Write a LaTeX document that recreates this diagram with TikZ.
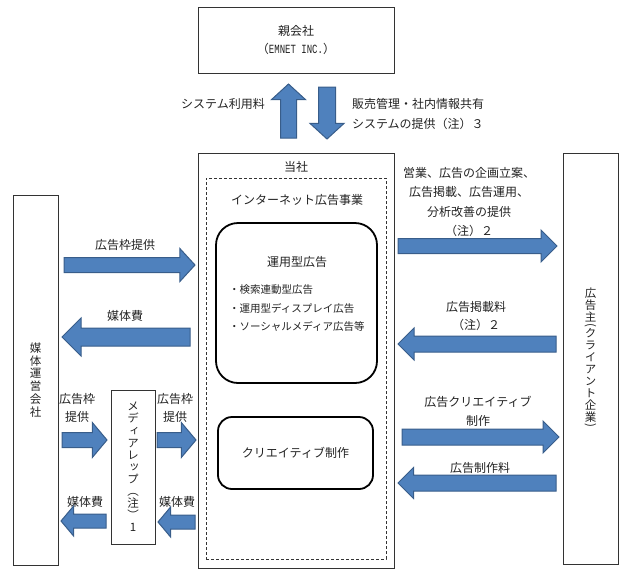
\documentclass[tikz,border=0pt]{standalone}
\usepackage{graphicx}
\usepackage{fontspec}
\setmainfont{Noto Sans CJK JP}
\newfontfamily\jpv[RawFeature=+vert]{Noto Sans CJK JP}
\newfontfamily\monof{Liberation Mono}
\usetikzlibrary{shapes.arrows}
\definecolor{arrowblue}{HTML}{4F81BD}
\definecolor{arrowedge}{HTML}{385D8A}
\definecolor{linegray}{HTML}{333333}
\definecolor{txt}{HTML}{222222}
\begin{document}
\begin{tikzpicture}[x=1pt,y=-1pt,
  box/.style={draw=linegray, line width=0.8pt, inner sep=0pt, outer sep=0pt, text=txt},
  rbox/.style={draw=black, line width=1.8pt, inner sep=0pt, outer sep=0pt, text=txt},
  lbl/.style={inner sep=0pt, outer sep=0pt, text=txt, align=center, font=\fontsize{12}{18}\selectfont},
  vlbl/.style={align=center, font=\jpv\fontsize{11.5}{12.8}\selectfont},
  barrow/.style={single arrow, draw=arrowedge, fill=arrowblue, line width=1pt,
    inner xsep=0pt, outer sep=0pt, single arrow tip angle=95,
    text height=0pt, text depth=0pt,
    single arrow head indent=0pt, anchor=tail}
]
\useasboundingbox (0,0) rectangle (626,574);

% boxes
\node[box, minimum width=196pt, minimum height=66pt, align=center,
  font=\fontsize{12}{18}\selectfont] (parent) at (296,40)
  {親会社\\（\scalebox{0.72}[1]{\monof\fontsize{12.5}{12.5}\selectfont EMNET INC.}）};
\node[box, minimum width=196pt, minimum height=415pt] (main) at (296,360.5) {};
\node[box, dash pattern=on 3pt off 2pt, minimum width=180pt, minimum height=381pt] (biz) at (296,368.5) {};
\node[rbox, rounded corners=22pt, minimum width=161pt, minimum height=160pt] (ops) at (296.5,303) {};
\node[rbox, rounded corners=14pt, minimum width=155pt, minimum height=72pt,
  font=\fontsize{12}{14}\selectfont] (creative) at (295.5,453) {クリエイティブ制作};

\node[box, minimum width=45pt, minimum height=370pt, vlbl] (media) at (35.5,380)
  {媒\\体\\運\\営\\会\\社};
\node[box, minimum width=44pt, minimum height=154pt, vlbl,
  font=\jpv\fontsize{11.5}{12.1}\selectfont] (rep) at (133,467)
  {メ\\デ\\ィ\\ア\\レ\\ッ\\プ\\（\\注\\）\\1};
\node[box, minimum width=55pt, minimum height=411pt, vlbl,
  font=\jpv\fontsize{11.5}{12}\selectfont] (client) at (590.5,358.5)
  {広\\告\\主\\[-4pt]\rotatebox[origin=c]{-90}{\normalfont(}\\[-4pt]ク\\ラ\\イ\\ア\\ン\\ト\\企\\業\\[-4pt]\rotatebox[origin=c]{-90}{\normalfont)}};

% labels inside the company box
\node[lbl] (l_self) at (296,167) {当社};
\node[lbl] (l_biz) at (297,200) {インターネット広告事業};
\node[lbl] (l_ops) at (297,262) {運用型広告};
\node[lbl, anchor=west, align=left, font=\fontsize{10.5}{18.5}\selectfont] (l_items) at (229,308.5)
  {・検索連動型広告\\・運用型ディスプレイ広告\\・ソーシャルメディア広告等};

% top labels
\node[lbl] (l_sysfee) at (223,104) {システム利用料};
\node[lbl, anchor=west, align=left, font=\fontsize{12}{20}\selectfont] (l_sysprov) at (352,114)
  {販売管理・社内情報共有\\システムの提供（注）３};

% left labels
\node[lbl] (l_frame) at (125,245) {広告枠提供};
\node[lbl] (l_fee) at (125,316) {媒体費};
\node[lbl] (l_frame2) at (77,408) {広告枠\\提供};
\node[lbl] (l_frame3) at (175,408) {広告枠\\提供};
\node[lbl] (l_fee2) at (85,502) {媒体費};
\node[lbl] (l_fee3) at (177,502) {媒体費};

% right labels
\node[lbl, font=\fontsize{12}{19.3}\selectfont] (l_sales) at (469,202)
  {営業、広告の企画立案、\\広告掲載、広告運用、\\分析改善の提供\\（注）２};
\node[lbl] (l_adfee) at (476,316) {広告掲載料\\（注）２};
\node[lbl, font=\fontsize{12}{19}\selectfont] (l_cre) at (478,411.5) {広告クリエイティブ\\制作};
\node[lbl] (l_crefee) at (480,468) {広告制作料};

% block arrows (inner sep across the shaft = half shaft width)
\node[barrow, shape border rotate=90, minimum height=54pt, inner xsep=7.5pt, inner ysep=0pt,
  single arrow head extend=9pt] (a_up) at (288.5,138) {};
\node[barrow, shape border rotate=270, minimum height=52pt, inner xsep=8pt, inner ysep=0pt,
  single arrow head extend=8.5pt] (a_down) at (327,87) {};

\node[barrow, minimum height=131pt, inner ysep=7pt,
  single arrow head extend=9pt] (a_frame) at (64,265) {};
\node[barrow, shape border rotate=180, single arrow tip angle=90, minimum height=128pt, inner ysep=8.5pt,
  single arrow head extend=10pt] (a_fee) at (190,337) {};
\node[barrow, single arrow tip angle=100, minimum height=45pt, inner ysep=7pt,
  single arrow head extend=10pt] (a_frame2) at (62,440) {};
\node[barrow, single arrow tip angle=100, minimum height=39pt, inner ysep=7pt,
  single arrow head extend=10pt] (a_frame3) at (157,440) {};
\node[barrow, shape border rotate=180, single arrow tip angle=100, minimum height=45pt, inner ysep=6.5pt,
  single arrow head extend=8pt] (a_fee2) at (106,521) {};
\node[barrow, shape border rotate=180, single arrow tip angle=100, minimum height=37pt, inner ysep=6.5pt,
  single arrow head extend=8pt] (a_fee3) at (195,522) {};

\node[barrow, single arrow tip angle=90, minimum height=159pt, inner ysep=7pt,
  single arrow head extend=8.5pt] (a_sales) at (398,246) {};
\node[barrow, shape border rotate=180, single arrow tip angle=90, minimum height=158pt, inner ysep=7.5pt,
  single arrow head extend=8pt] (a_adfee) at (556,344) {};
\node[barrow, single arrow tip angle=90, minimum height=157pt, inner ysep=7.5pt,
  single arrow head extend=8pt] (a_cre) at (402,437) {};
\node[barrow, shape border rotate=180, single arrow tip angle=90, minimum height=158pt, inner ysep=7.5pt,
  single arrow head extend=7.5pt] (a_crefee) at (556,483) {};
\end{tikzpicture}
\end{document}
